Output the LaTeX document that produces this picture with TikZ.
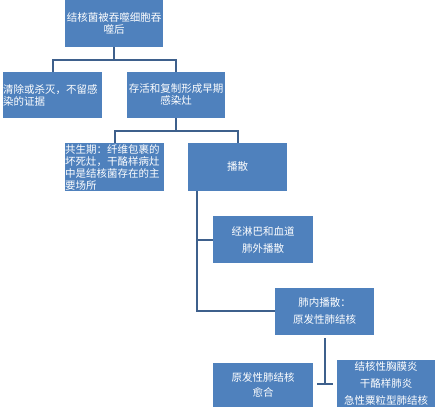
\documentclass[tikz,border=0pt]{standalone}
\usepackage{fontspec}
\newfontfamily\cjk{Noto Sans CJK SC}
\definecolor{boxblue}{RGB}{79,129,189}
\definecolor{linkblue}{RGB}{62,96,140}
\begin{document}
\begin{tikzpicture}[x=1pt,y=-1pt,
  box/.style={fill=boxblue,draw=none,text=white,inner sep=0pt,font=\cjk\fontsize{10.5}{12}\selectfont,align=center},
  tight/.style={font=\cjk\fontsize{10.5}{12}\selectfont},
  loose/.style={font=\cjk\fontsize{10.5}{17}\selectfont},
  link/.style={draw=linkblue,line width=2pt}]
\useasboundingbox (0,0) rectangle (435,411);
\node[box,tight,minimum width=98,minimum height=47,text width=98] (top) at (114,23.5) {结核菌被吞噬细胞吞\\噬后};
\node[box,tight,minimum width=99,minimum height=46,text width=99,align=left] (clear) at (52.5,95) {清除或杀灭，不留感\\染的证据};
\node[box,tight,minimum width=98,minimum height=46,text width=98] (survive) at (176,95) {存活和复制形成早期\\感染灶};
\node[box,tight,minimum width=99,minimum height=48,text width=99,align=left] (symb) at (114.5,167) {共生期：纤维包裹的\\坏死灶，干酪样病灶\\中是结核菌存在的主\\要场所};
\node[box,loose,minimum width=99,minimum height=48,text width=99] (spread) at (237.5,167) {播散};
\node[box,loose,minimum width=100,minimum height=47,text width=100] (lymph) at (263,239.5) {经淋巴和血道\\肺外播散};
\node[box,loose,minimum width=99,minimum height=47,text width=99] (lung) at (324.5,311.5) {肺内播散：\\原发性肺结核};
\node[box,tight,minimum width=100,minimum height=44,text width=100,font=\cjk\fontsize{10.5}{15}\selectfont] (heal) at (263,385) {原发性肺结核\\愈合};
\node[box,loose,minimum width=98,minimum height=47,text width=98] (tb) at (386,383.5) {结核性胸膜炎\\干酪样肺炎\\急性粟粒型肺结核};
% connectors
\draw[link] (top.south) -- ++(0,13) -| (clear.north);
\draw[link] (top.south) -- ++(0,13) -| (survive.north);
\draw[link] (survive.south) -- ++(0,13) -| (symb.north);
\draw[link] (survive.south) -- ++(0,13) -| (spread.north);
\coordinate (sp) at (197,191);
\draw[link] (sp) |- (lymph.west);
\draw[link] (sp) |- ([yshift=1pt]lung.west);
\coordinate (lb) at (325,338);
\coordinate (bar) at (325,384);
\coordinate (barL) at (317,384);
\coordinate (barR) at (333,384);
\draw[link] (lb) -- (bar);
\draw[link] (barL) -- (barR);
\end{tikzpicture}
\end{document}
